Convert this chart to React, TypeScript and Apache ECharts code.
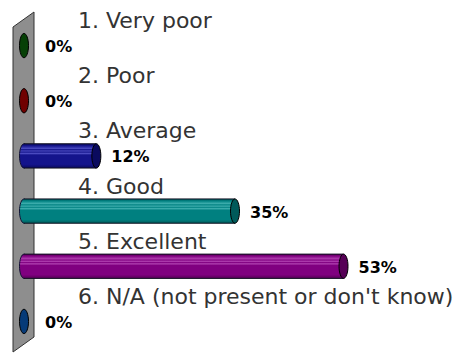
import React, { useEffect, useRef } from "react";
import * as echarts from "echarts";

const categories = [
  "1. Very poor",
  "2. Poor",
  "3. Average",
  "4. Good",
  "5. Excellent",
  "6. N/A (not present or don't know)",
];
const values = [0, 0, 12, 35, 53, 0];
const baseColors = ["#0a5a0a", "#800000", "#14148c", "#008080", "#800080", "#0a4a8a"];
const lightColors = ["#3a8a3a", "#b03030", "#4a4ac0", "#40b0b0", "#b040b0", "#3a7ab8"];
const capColors = ["#064006", "#700000", "#0a0a5e", "#005a5a", "#560056", "#063a78"];

function ellipseShape(cx: number, cy: number, rx: number, ry: number) {
  return { cx, cy, rx, ry };
}

export default function App() {
  const ref = useRef<HTMLDivElement>(null);
  useEffect(() => {
    if (!ref.current) return;
    const chart = echarts.init(ref.current, undefined, { renderer: "svg" });
    const data = categories.map((c, i) => [i, values[i]]);
    chart.setOption({
      animation: false,
      backgroundColor: "#ffffff",
      grid: { left: 24, right: 17, top: 18, bottom: 7 },
      xAxis: { type: "value", min: 0, max: 70, show: false },
      yAxis: {
        type: "category",
        data: categories,
        inverse: true,
        show: false,
      },
      graphic: [
        {
          type: "polygon",
          z: 0,
          shape: { points: [[13, 27], [34, 12], [34, 337], [13, 352]] },
          style: { fill: "#8e8e8e", stroke: "#333333", lineWidth: 1 },
        },
      ],
      series: [
        {
          type: "custom",
          z: 5,
          encode: { x: 1, y: 0 },
          data,
          renderItem: (params: any, api: any) => {
            const yi = api.value(0);
            const v = api.value(1);
            const p0 = api.coord([0, yi]);
            const p1 = api.coord([v, yi]);
            const band = api.size([0, 1])[1];
            const h = band * 0.44;
            const ry = h / 2;
            const rx = 4.5;
            const cx0 = p0[0];
            const cy = p0[1];
            const cx1 = p1[0];
            const base = baseColors[yi];
            const light = lightColors[yi];
            const cap = capColors[yi];
            const grad = new echarts.graphic.LinearGradient(0, 0, 0, 1, [
              { offset: 0, color: cap },
              { offset: 0.08, color: base },
              { offset: 0.2, color: light },
              { offset: 0.24, color: base },
              { offset: 0.3, color: light },
              { offset: 0.34, color: base },
              { offset: 0.4, color: light },
              { offset: 0.46, color: base },
              { offset: 0.85, color: base },
              { offset: 1, color: cap },
            ]);
            const children: any[] = [];
            if (v > 0) {
              children.push({
                type: "ellipse",
                shape: ellipseShape(cx0, cy, rx, ry),
                style: { fill: grad, stroke: "#111133", lineWidth: 1 },
              });
              children.push({
                type: "rect",
                shape: { x: cx0, y: cy - ry, width: cx1 - cx0, height: h },
                style: { fill: grad },
              });
              children.push({
                type: "line",
                shape: { x1: cx0, y1: cy - ry, x2: cx1, y2: cy - ry },
                style: { stroke: "#111122", lineWidth: 1 },
              });
              children.push({
                type: "line",
                shape: { x1: cx0, y1: cy + ry, x2: cx1, y2: cy + ry },
                style: { stroke: "#111122", lineWidth: 1 },
              });
            }
            children.push({
              type: "ellipse",
              shape: ellipseShape(cx1, cy, rx, ry),
              style: { fill: cap, stroke: "#000000", lineWidth: 1 },
            });
            children.push({
              type: "text",
              style: {
                x: cx1 + 15 + (v === 0 ? 6 : 0),
                y: cy + 1,
                text: v + "%",
                fill: "#000000",
                font: "bold 16px 'DejaVu Sans'",
                textAlign: "left",
                textVerticalAlign: "middle",
              },
            });
            children.push({
              type: "text",
              style: {
                x: cx0 + 54,
                y: cy - 25,
                text: categories[yi],
                fill: "#333333",
                font: "22px 'DejaVu Sans'",
                textAlign: "left",
                textVerticalAlign: "middle",
              },
            });
            return { type: "group", children };
          },
        },
      ],
    });
    return () => chart.dispose();
  }, []);
  return (
    <div
      ref={ref}
      style={{ position: "fixed", left: 0, top: 0, width: 463, height: 356, background: "#fff" }}
    />
  );
}
